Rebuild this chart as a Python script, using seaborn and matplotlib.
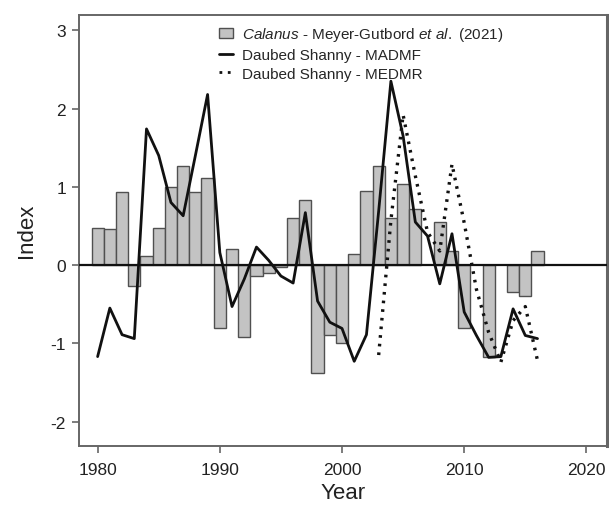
import numpy as np
import pandas as pd
import matplotlib
matplotlib.use("Agg")
import matplotlib.pyplot as plt
import seaborn as sns
from matplotlib.patches import Patch
from matplotlib.lines import Line2D

years = list(range(1980, 2017))
calanus = [0.48, 0.46, 0.93, -0.27, 0.12, 0.47, 1.00, 1.26, 0.93, 1.11,
           -0.80, 0.20, -0.92, -0.145, -0.10, -0.03, 0.60, 0.83, -1.38, -0.90,
           -0.99, 0.14, 0.95, 1.26, 0.60, 1.03, 0.72, np.nan, 0.55, 0.18,
           -0.80, np.nan, -1.17, np.nan, -0.34, -0.39, 0.18]
madmf = [-1.17, -0.55, -0.89, -0.94, 1.74, 1.40, 0.80, 0.63, 1.40, 2.18,
         0.16, -0.53, -0.18, 0.23, 0.06, -0.14, -0.23, 0.67, -0.46, -0.73,
         -0.81, -1.23, -0.89, 0.69, 2.35, 1.65, 0.55, 0.37, -0.24, 0.40,
         -0.60, -0.90, -1.18, -1.17, -0.56, -0.90, -0.94]
medmr_years = list(range(2003, 2017))
medmr = [-1.15, 0.57, 1.92, 1.14, 0.42, 0.18, 1.29, 0.54, -0.31, -0.86,
         -1.24, -0.71, -0.53, -1.22]

sns.set_theme(style="ticks")
plt.rcParams['font.family'] = ['Liberation Sans', 'DejaVu Sans']
plt.rcParams['mathtext.fontset'] = 'custom'
plt.rcParams['mathtext.it'] = 'Liberation Sans:italic'
plt.rcParams['mathtext.rm'] = 'Liberation Sans'

fig = plt.figure(figsize=(6.09, 5.06), dpi=100)
ax = fig.add_axes([0.129, 0.117, 0.868, 0.852])

df_bar = pd.DataFrame({"Year": years, "Index": calanus}).dropna()
sns.barplot(data=df_bar, x="Year", y="Index", native_scale=True, width=1.0,
            color="#c3c3c3", saturation=1, edgecolor="#505050", linewidth=1.0,
            ax=ax, zorder=2)

ax.axhline(0, color="#111111", lw=1.6, zorder=3)

sns.lineplot(x=years, y=madmf, color="#111111", lw=2.0, ax=ax, zorder=4)
sns.lineplot(x=medmr_years, y=medmr, color="#111111", lw=2.4, ax=ax, zorder=4,
             linestyle=(0, (0.8, 1.8)))

ax.set_xlim(1978.44, 2021.7)
ax.set_ylim(-2.31, 3.2)
ax.set_xticks([1980, 1990, 2000, 2010, 2020])
ax.set_yticks([-2, -1, 0, 1, 2, 3])
ax.set_xticklabels(["1980", "1990", "2000", "2010", "2020"])
ax.set_yticklabels(["-2", "-1", "0", "1", "2", "3"])
ax.tick_params(axis='both', labelsize=12.5, labelcolor="#222222", length=5,
               width=1.2, direction='out', color="#666666")
ax.tick_params(axis='x', pad=7)
ax.tick_params(axis='y', pad=4)
ax.set_xlabel("Year", fontsize=16, color="#222222", labelpad=3)
ax.set_ylabel("Index", fontsize=16, color="#222222", labelpad=10)
for s in ax.spines.values():
    s.set_color("#666666")
    s.set_linewidth(1.4)
ax.spines['right'].set_linewidth(2.2)

handles = [Patch(facecolor="#c3c3c3", edgecolor="#505050", lw=1.0),
           Line2D([], [], color="#111111", lw=2.0),
           Line2D([], [], color="#111111", lw=2.0, linestyle=(0, (1, 2)))]
labels = [r"$\it{Calanus}$ - Meyer-Gutbord $\it{et\ al.}$ (2021)",
          "Daubed Shanny - MADMF", "Daubed Shanny - MEDMR"]
ax.legend(handles, labels, loc="upper left", bbox_to_anchor=(0.245, 1.0),
          frameon=False, fontsize=11, handlelength=0.9, handleheight=0.7,
          handletextpad=0.6, labelspacing=0.3, borderaxespad=0.3)

fig.savefig("out.png", dpi=100)
